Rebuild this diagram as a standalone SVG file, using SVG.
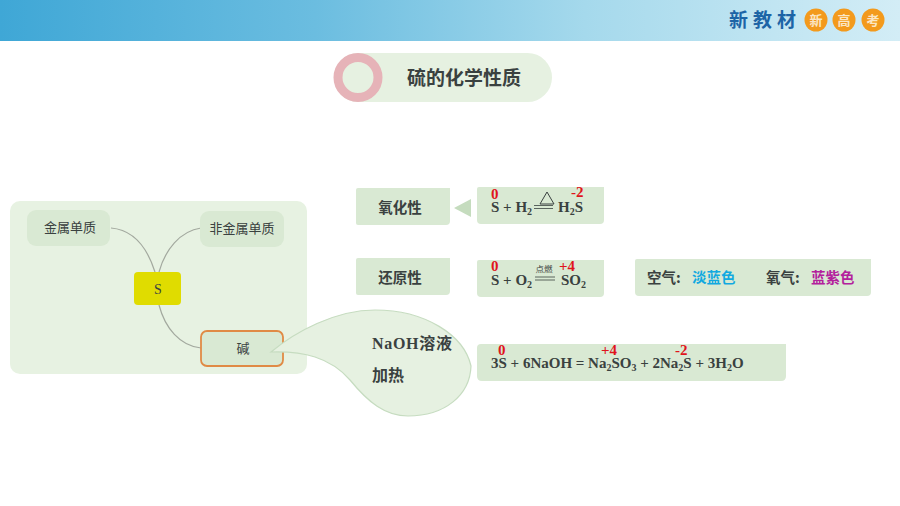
<svg xmlns="http://www.w3.org/2000/svg" width="900" height="506" viewBox="0 0 900 506">
<style>
.cn{font-family:"Noto Sans CJK SC","Noto Sans",sans-serif}
.bold{font-weight:700}
.dark{fill:#3a4140}
.f{font-family:"Liberation Serif","Noto Sans CJK SC",serif;font-weight:700;font-size:15px;fill:#3a4140}
.ox{font-family:"Liberation Serif",serif;font-weight:700;font-size:15px;fill:#e0141c}
.box{fill:#d9e9d3}
.node{fill:#d9e9d3}
.conn{fill:none;stroke:#a3a99f;stroke-width:1.2}
.sub{font-size:10px}
</style>
<defs>
<linearGradient id="hdr" x1="0" x2="1" y1="0" y2="0">
<stop offset="0" stop-color="#3fa7d6"/>
<stop offset="0.35" stop-color="#6bbde0"/>
<stop offset="0.65" stop-color="#a5d9ec"/>
<stop offset="1" stop-color="#d3edf6"/>
</linearGradient>
</defs>
<rect width="900" height="506" fill="#ffffff"/>
<g id="header">
<rect width="900" height="41" fill="url(#hdr)"/>
<text x="729" y="27" class="cn bold" font-size="19" letter-spacing="5" fill="#1d64a6">新教材</text>
<circle cx="816" cy="20" r="11.5" fill="#f39a1c"/>
<circle cx="844" cy="20" r="11.5" fill="#f39a1c"/>
<circle cx="873" cy="20" r="11.5" fill="#f39a1c"/>
<text x="816" y="25" class="cn bold" font-size="13" fill="#fbe6c4" text-anchor="middle">新</text>
<text x="844" y="25" class="cn bold" font-size="13" fill="#fbe6c4" text-anchor="middle">高</text>
<text x="873" y="25" class="cn bold" font-size="13" fill="#fbe6c4" text-anchor="middle">考</text>
</g>
<g id="title">
<rect x="334" y="53" width="218" height="49" rx="24.5" fill="#e6f1e1"/>
<circle cx="358" cy="77.5" r="20" fill="#e6f1e1" stroke="#e6b3b8" stroke-width="9"/>
<text x="464" y="85" class="cn bold dark" font-size="19" text-anchor="middle">硫的化学性质</text>
</g>
<g id="panel"><rect x="10" y="201" width="297" height="173" rx="10" fill="#e7f2e2"/></g>
<g id="connectors">
<path class="conn" d="M111 228C135 230 148 250 155 272"/>
<path class="conn" d="M201 228C180 231 165 250 159 272"/>
<path class="conn" d="M159 305C165 328 180 346 201 348"/>
</g>
<g id="node-metal"><rect x="27" y="210" width="83" height="36" rx="9" class="node"/>
<text x="70" y="232" class="cn dark" font-size="13" text-anchor="middle">金属单质</text></g>
<g id="node-nonmetal"><rect x="200" y="211" width="84" height="36" rx="9" class="node"/>
<text x="242" y="233" class="cn dark" font-size="13" text-anchor="middle">非金属单质</text></g>
<g id="node-s"><rect x="134" y="272" width="47" height="33" rx="4" fill="#e0dc00"/>
<text x="158" y="294" font-family="Liberation Serif,serif" font-size="14" fill="#3a4140" text-anchor="middle">S</text></g>
<g id="node-base"><rect x="201" y="331" width="82" height="35" rx="6" fill="#d9e9d3" stroke="#e08a45" stroke-width="1.8"/>
<text x="243" y="353" class="cn dark" font-size="13" text-anchor="middle">碱</text></g>
<g id="callout">
<path d="M271 352C295 332 335 310 375 310C425 310 464 335 471 366C470 395 445 416 408 416C385 416 368 402 350 380C330 357 303 351 271 352Z" fill="#e6f1e1" stroke="#c6dcc0" stroke-width="1.2"/>
<text x="372" y="349" font-family="Liberation Serif,'Noto Sans CJK SC',serif" font-weight="700" font-size="16" letter-spacing="0.7" class="dark">NaOH<tspan class="cn">溶液</tspan></text>
<text x="372" y="381" class="cn bold dark" font-size="16">加热</text>
</g>
<g id="node-oxidizing"><path d="M358 188H450V221Q450 225 446 225H358Q356 225 356 223V190Q356 188 358 188Z" class="box"/>
<text x="400" y="213" class="cn bold dark" font-size="14.5" text-anchor="middle">氧化性</text></g>
<polygon id="arrow" points="454,208 471,199 471,217" fill="#c5dcbe"/>
<g id="eq1"><path d="M479 187H604V220Q604 224 600 224H481Q477 224 477 220V189Q477 187 479 187Z" class="box"/>
<text x="491" y="212" class="f">S + H<tspan class="sub" dy="3">2</tspan></text>
<text x="558" y="212" class="f">H<tspan class="sub" dy="3">2</tspan><tspan dy="-3">S</tspan></text>
<path d="M540 204L547 192L554 204Z" fill="none" stroke="#3a4140" stroke-width="1"/>
<path d="M534 205.5H553M534 208.5H553" stroke="#3a4140" stroke-width="0.8" fill="none"/>
<text x="491" y="199" class="ox">0</text>
<text x="571" y="197" class="ox">-2</text></g>
<g id="node-reducing"><path d="M358 258H450V291Q450 295 446 295H358Q356 295 356 293V260Q356 258 358 258Z" class="box"/>
<text x="400" y="283" class="cn bold dark" font-size="14.5" text-anchor="middle">还原性</text></g>
<g id="eq2"><path d="M479 260H604V293Q604 297 600 297H481Q477 297 477 293V262Q477 260 479 260Z" class="box"/>
<text x="491" y="285" class="f">S + O<tspan class="sub" dy="3">2</tspan></text>
<text x="561" y="285" class="f">SO<tspan class="sub" dy="3">2</tspan></text>
<text x="544" y="272" class="cn" font-size="8.5" fill="#3a4140" text-anchor="middle">点燃</text>
<path d="M535 277H555M535 280H555" stroke="#3a4140" stroke-width="0.8" fill="none"/>
<text x="491" y="271" class="ox">0</text>
<text x="559" y="271" class="ox">+4</text></g>
<g id="flame"><path d="M637 259H871V292Q871 296 867 296H639Q635 296 635 292V261Q635 259 637 259Z" class="box"/>
<text x="647" y="283" class="cn bold dark" font-size="14.5">空气:</text>
<text x="692" y="283" class="cn bold" font-size="14.5" fill="#12a9e0">淡蓝色</text>
<text x="766" y="283" class="cn bold dark" font-size="14.5">氧气:</text>
<text x="811" y="283" class="cn bold" font-size="14.5" fill="#b3209c">蓝紫色</text></g>
<g id="eq3"><path d="M481 344H786V376Q786 381 781 381H482Q477 381 477 376V348Q477 344 481 344Z" class="box"/>
<text x="491" y="368" class="f">3S + 6NaOH = Na<tspan class="sub" dy="3">2</tspan><tspan dy="-3">SO</tspan><tspan class="sub" dy="3">3</tspan><tspan dy="-3"> + 2Na</tspan><tspan class="sub" dy="3">2</tspan><tspan dy="-3">S + 3H</tspan><tspan class="sub" dy="3">2</tspan><tspan dy="-3">O</tspan></text>
<text x="498" y="355" class="ox">0</text>
<text x="601" y="355" class="ox">+4</text>
<text x="675" y="355" class="ox">-2</text></g>
</svg>
